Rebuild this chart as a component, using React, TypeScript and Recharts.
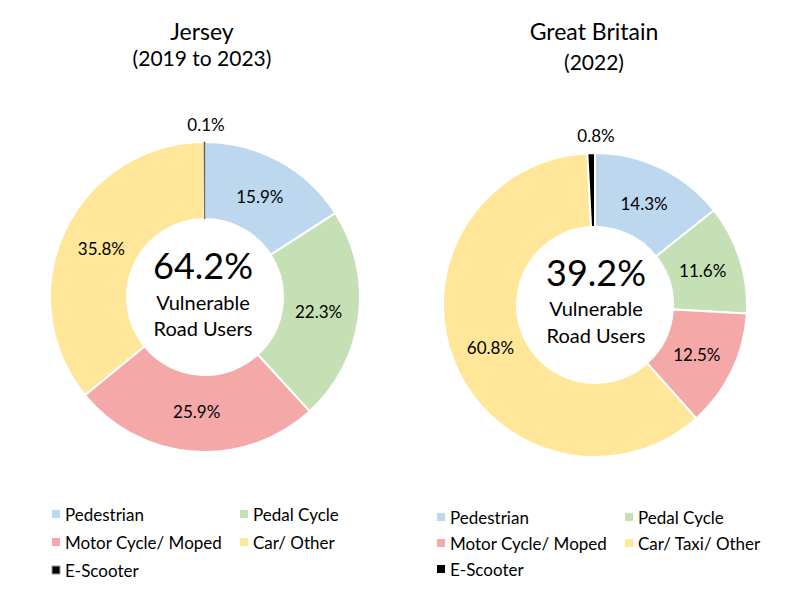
import { PieChart, Pie, Cell } from 'recharts';

const jerseyCategories = ['Pedestrian', 'Pedal Cycle', 'Motor Cycle/ Moped', 'Car/ Other', 'E-Scooter'];
const gbCategories = ['Pedestrian', 'Pedal Cycle', 'Motor Cycle/ Moped', 'Car/ Taxi/ Other', 'E-Scooter'];
const jerseyValues = [15.9, 22.3, 25.9, 35.8, 0.1];
const gbValues = [14.3, 11.6, 12.5, 60.8, 0.8];
const sliceColors = ['#BDD7EE', '#C5E0B4', '#F4A8A8', '#FFE699', '#000000'];

const jerseyData = jerseyCategories.map((name, i) => ({ name, value: jerseyValues[i] }));
const gbData = gbCategories.map((name, i) => ({ name, value: gbValues[i] }));

const FONT = 'Lato, "Noto Sans", sans-serif';
const RADIAN = Math.PI / 180;

function sliceLabel(props: any) {
  const { cx, cy, midAngle, innerRadius, outerRadius, value } = props;
  const r = value < 1 ? outerRadius + 18 : (innerRadius + outerRadius) / 2 - 2;
  const x = cx + r * Math.cos(-midAngle * RADIAN);
  const y = cy + r * Math.sin(-midAngle * RADIAN);
  return (
    <text
      x={value < 1 ? cx + 1 : x}
      y={y}
      fill="#000"
      textAnchor="middle"
      dominantBaseline="central"
      fontSize={17}
      fontFamily={FONT}
    >
      {value.toFixed(1)}%
    </text>
  );
}

function Legend({ names, x1, x2, rows, outlined }: { names: string[]; x1: number; x2: number; rows: number[]; outlined: boolean }) {
  return (
    <g fontFamily={FONT} fontSize={17} fill="#000">
      {names.map((n, i) => {
        const x = i % 2 === 0 ? x1 : x2;
        const y = rows[Math.floor(i / 2)];
        return (
          <g key={n}>
            <rect
              x={x}
              y={y - 4}
              width={8}
              height={8}
              fill={sliceColors[i]}
              stroke={i === 4 && outlined ? '#999' : 'none'}
              strokeWidth={1}
            />
            <text x={x + 13} y={y} dominantBaseline="central">
              {n}
            </text>
          </g>
        );
      })}
    </g>
  );
}

export default function App() {
  return (
    <div style={{ position: 'absolute', left: 0, top: 0, width: 786, height: 597, background: '#fff' }}>
      <PieChart width={786} height={597} margin={{ top: 0, right: 0, bottom: 0, left: 0 }}>
        <Pie
          data={jerseyData}
          dataKey="value"
          cx={205}
          cy={297}
          innerRadius={78}
          outerRadius={155}
          startAngle={90}
          endAngle={-270}
          stroke="#fff"
          strokeWidth={2}
          label={sliceLabel}
          labelLine={false}
          isAnimationActive={false}
        >
          {jerseyData.map((d, i) => (
            <Cell
              key={d.name}
              fill={i === 4 ? '#444' : sliceColors[i]}
              stroke={i === 4 ? '#666' : '#fff'}
              strokeWidth={i === 4 ? 0.8 : 2}
            />
          ))}
        </Pie>
        <Pie
          data={gbData}
          dataKey="value"
          cx={595}
          cy={305}
          innerRadius={78}
          outerRadius={152}
          startAngle={90}
          endAngle={-270}
          stroke="#fff"
          strokeWidth={2}
          label={sliceLabel}
          labelLine={false}
          isAnimationActive={false}
        >
          {gbData.map((d, i) => (
            <Cell key={d.name} fill={sliceColors[i]} />
          ))}
        </Pie>
      </PieChart>
      <svg width={786} height={597} style={{ position: 'absolute', left: 0, top: 0, pointerEvents: 'none' }}>
        <g fontFamily={FONT} fill="#000" textAnchor="middle">
          <text x={202} y={40} fontSize={23}>Jersey</text>
          <text x={202} y={66} fontSize={21}>(2019 to 2023)</text>
          <text x={594} y={40} fontSize={23}>Great Britain</text>
          <text x={594} y={70} fontSize={21}>(2022)</text>

          <text x={203} y={279} fontSize={36}>64.2%</text>
          <text x={203} y={310} fontSize={20}>Vulnerable</text>
          <text x={203} y={336} fontSize={20}>Road Users</text>

          <text x={596} y={286} fontSize={36}>39.2%</text>
          <text x={596} y={316} fontSize={20}>Vulnerable</text>
          <text x={596} y={343} fontSize={20}>Road Users</text>
        </g>
        <Legend names={jerseyCategories} x1={52} x2={240} rows={[514, 542, 570]} outlined />
        <Legend names={gbCategories} x1={437} x2={625} rows={[517, 543, 569]} outlined={false} />
      </svg>
    </div>
  );
}
